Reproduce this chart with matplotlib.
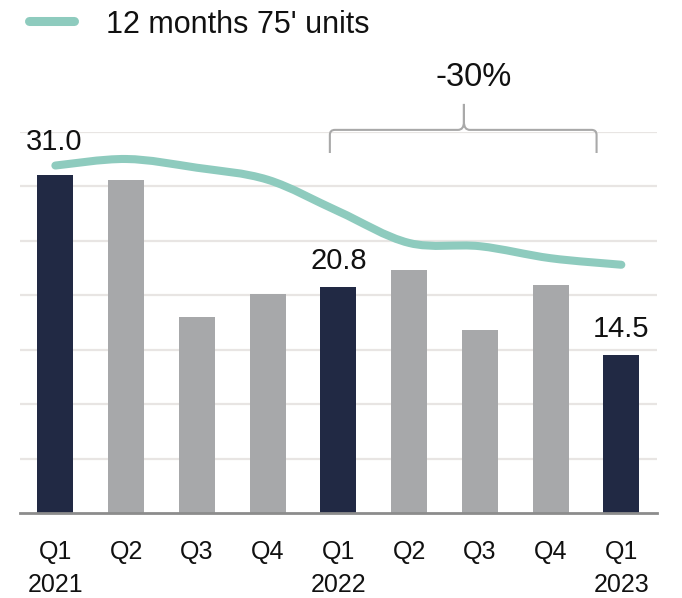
import numpy as np
import matplotlib
matplotlib.use("Agg")
import matplotlib.pyplot as plt
from matplotlib.path import Path
from matplotlib.patches import PathPatch
from matplotlib.lines import Line2D

plt.rcParams['font.family'] = ['Liberation Sans', 'DejaVu Sans']

# data
quarters = ['Q1\n2021', 'Q2', 'Q3', 'Q4', 'Q1\n2022', 'Q2', 'Q3', 'Q4', 'Q1\n2023']
units = [31.0, 30.6, 18.0, 20.1, 20.8, 22.3, 16.8, 20.9, 14.5]
rolling_12m = [31.9, 32.5, 31.7, 30.6, 27.7, 24.8, 24.5, 23.4, 22.8]
highlight = [True, False, False, False, True, False, False, False, True]
labelled = {0: '31.0', 4: '20.8', 8: '14.5'}
change_label = '-30%'
legend_label = "12 months 75' units"

NAVY = '#212944'
GREY = '#a7a8aa'
TEAL = '#8ecbbe'
BRACE = '#a9a9a9'
GRID = '#e8e5e3'

fig = plt.figure(figsize=(6.82, 5.98), dpi=100)
ax = fig.add_axes([20 / 682, 0.1416, 636.7 / 682, 0.6381])

x = np.arange(len(units))
colors = [NAVY if h else GREY for h in highlight]
ax.bar(x, units, width=0.51, color=colors, zorder=2)

ax.set_xlim(-0.5, 8.5)
ax.set_ylim(0, 35)
ax.set_yticks(np.arange(5, 36, 5))
ax.yaxis.grid(True, color=GRID, linewidth=1.6, zorder=0)
ax.tick_params(axis='y', length=0, labelleft=False)
for s in ['top', 'right', 'left']:
    ax.spines[s].set_visible(False)
ax.spines['bottom'].set_color('#8c8c8c')
ax.spines['bottom'].set_linewidth(2)
ax.spines['bottom'].set_zorder(3)

ax.set_xticks(x)
ax.set_xticklabels(quarters, fontsize=18, linespacing=1.5, color='#111111')
ax.tick_params(axis='x', length=0, pad=19)


# smooth rolling line (Catmull-Rom drawn as bezier segments)
def smooth_path(xs, ys):
    pts = np.column_stack([xs, ys]).astype(float)
    n = len(pts)
    verts = [pts[0]]
    codes = [Path.MOVETO]
    for i in range(n - 1):
        p0 = pts[max(i - 1, 0)]
        p1 = pts[i]
        p2 = pts[i + 1]
        p3 = pts[min(i + 2, n - 1)]
        verts += [p1 + (p2 - p0) / 6, p2 - (p3 - p1) / 6, p2]
        codes += [Path.CURVE4] * 3
    return Path(verts, codes)


line = PathPatch(smooth_path(x, rolling_12m), fill=False, edgecolor=TEAL,
                 linewidth=5.8, capstyle='round', joinstyle='round',
                 zorder=4, clip_on=False)
ax.add_patch(line)

# value labels
offsets = {0: 14, 4: 8, 8: 9}
for i, txt in labelled.items():
    ax.annotate(txt, (x[i], units[i]), xytext=(-1 if i == 0 else 0, offsets[i]),
                textcoords='offset points', ha='center', va='bottom',
                fontsize=21, color='#111111', zorder=5)

# brace over the last year
px = 1 / 70.68
py = 1 / 10.9
bx0, bx1, bmid = 3.88, 7.65, 5.775
by, bend, btop = 35.17, 33.05, 37.55
r = 5
left = [(bx0, bend), (bx0, by - r * py), (bx0, by), (bx0 + r * px, by),
        (bmid - 6 * px, by), (bmid, by), (bmid, by + 8 * py), (bmid, btop)]
right = [(bx1, bend), (bx1, by - r * py), (bx1, by), (bx1 - r * px, by),
         (bmid + 6 * px, by), (bmid, by), (bmid, by + 8 * py), (bmid, btop)]
cds = [Path.MOVETO, Path.LINETO, Path.CURVE3, Path.CURVE3,
       Path.LINETO, Path.CURVE3, Path.CURVE3, Path.LINETO]
brace = Path(left + right, cds + cds)
ax.add_patch(PathPatch(brace, fill=False, edgecolor=BRACE, linewidth=1.5,
                       clip_on=False, zorder=3))
ax.text(5.917, 40.0, change_label, ha='center', va='center', fontsize=23.5,
        color='#111111')

# legend
fig.add_artist(Line2D([28.5 / 682, 73.5 / 682], [1 - 20.7 / 598] * 2,
                      color=TEAL, linewidth=6.5, solid_capstyle='round'))
fig.text(106 / 682, 1 - 33.3 / 598, legend_label, fontsize=22,
         ha='left', va='baseline', color='#111111')

fig.savefig('out.png', dpi=100)
